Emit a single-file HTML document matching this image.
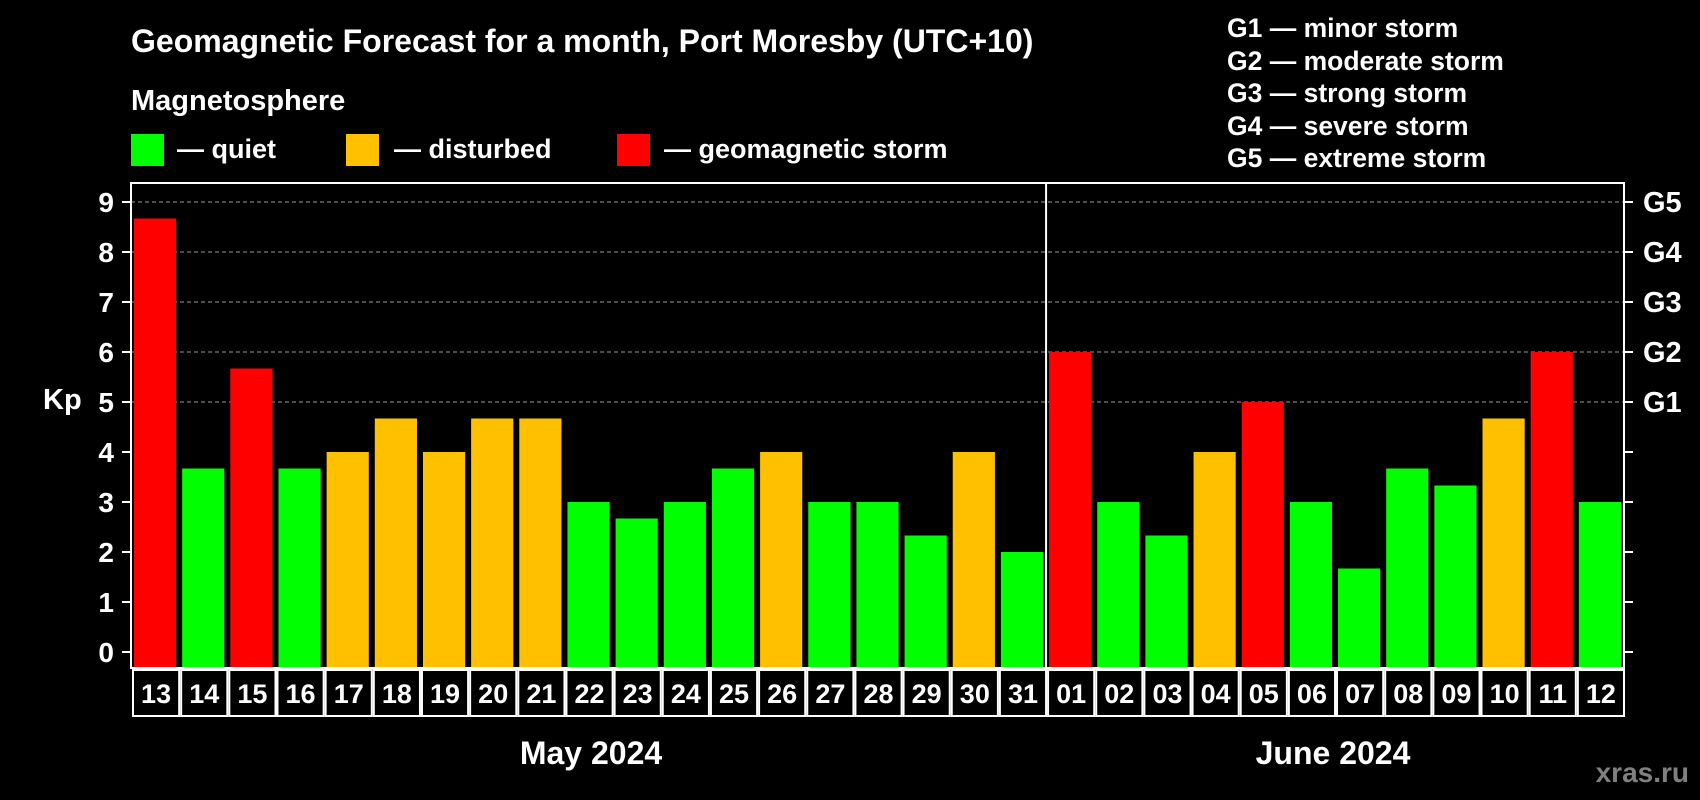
<!DOCTYPE html>
<html><head><meta charset="utf-8"><style>
html,body{margin:0;padding:0;background:#000;}
svg{display:block;font-family:"Liberation Sans",Arial,sans-serif;font-weight:bold;}
</style></head><body>
<svg id="c" width="1700" height="800" viewBox="0 0 1700 800">
<rect x="0" y="0" width="1700" height="800" fill="#000"/>
<text x="131" y="52" fill="#fff" font-size="32">Geomagnetic Forecast for a month, Port Moresby (UTC+10)</text>
<text x="131" y="110" fill="#fff" font-size="29">Magnetosphere</text>
<g><rect x="131" y="134" width="33" height="32" fill="#00ff00"/><text x="177" y="158" fill="#fff" font-size="27">— quiet</text></g>
<g><rect x="346" y="134" width="33" height="32" fill="#ffc000"/><text x="394" y="158" fill="#fff" font-size="27">— disturbed</text></g>
<g><rect x="617" y="134" width="33" height="32" fill="#ff0000"/><text x="664" y="158" fill="#fff" font-size="27">— geomagnetic storm</text></g>
<g fill="#fff" font-size="26.5">
<text x="1227" y="37">G1 — minor storm</text>
<text x="1227" y="70">G2 — moderate storm</text>
<text x="1227" y="102">G3 — strong storm</text>
<text x="1227" y="135">G4 — severe storm</text>
<text x="1227" y="167">G5 — extreme storm</text>
</g>
<text x="43" y="409" fill="#fff" font-size="29">Kp</text>
<g id="grid"></g><g id="bars"></g><g id="axes"></g>
<text x="591" y="764" fill="#fff" font-size="32" text-anchor="middle">May 2024</text>
<text x="1333" y="764" fill="#fff" font-size="32" text-anchor="middle">June 2024</text>
<text x="1689" y="782" fill="#808080" font-size="28" text-anchor="end">xras.ru</text>
</svg>
<script>
const days = ["13","14","15","16","17","18","19","20","21","22","23","24","25","26","27","28","29","30","31","01","02","03","04","05","06","07","08","09","10","11","12"];
const kpValues = [8.67,3.67,5.67,3.67,4,4.67,4,4.67,4.67,3,2.67,3,3.67,4,3,3,2.33,4,2,6,3,2.33,4,5,3,1.67,3.67,3.33,4.67,6,3];
const yTicks = [0,1,2,3,4,5,6,7,8,9];
const gLabels = ["G1","G2","G3","G4","G5"];
const gLevels = [5,6,7,8,9];
const monthSplit = 19;

const NS="http://www.w3.org/2000/svg";
const L=131,R=1624,T=183,B=668;
const slot=(R-L)/days.length;
const y=v=>652-v*50;
const x=i=>L+i*slot;
function mk(tag,attrs,parent){const e=document.createElementNS(NS,tag);for(const k in attrs)e.setAttribute(k,attrs[k]);parent.appendChild(e);return e;}
const grid=document.getElementById('grid'),bars=document.getElementById('bars'),axes=document.getElementById('axes');
gLevels.forEach(v=>{
  const g=mk('line',{x1:L,x2:R,y1:y(v),y2:y(v),stroke:'#999','stroke-width':1,'stroke-dasharray':'4,3'},grid);
  
  
});
kpValues.forEach((v,i)=>{
  const col=v>=5?'#ff0000':(v>=4?'#ffc000':'#00ff00');
  const r=mk('rect',{x:x(i)+3,y:y(v),width:slot-6,height:B-y(v),fill:col},bars);
  
  
});
const fr=mk('rect',{x:L,y:T,width:R-L,height:B-T,fill:'none',stroke:'#fff','stroke-width':2},axes);


const dv=mk('line',{x1:x(monthSplit),x2:x(monthSplit),y1:T,y2:B,stroke:'#fff','stroke-width':2},axes);


yTicks.forEach(v=>{
  mk('line',{x1:L-9,x2:L,y1:y(v),y2:y(v),stroke:'#fff','stroke-width':2},axes);
  mk('line',{x1:R,x2:R+9,y1:y(v),y2:y(v),stroke:'#fff','stroke-width':2},axes);
  const t=mk('text',{x:114,y:y(v)+10,fill:'#fff','font-size':28,'text-anchor':'end'},axes);
  t.textContent=v;
  
  
});
gLabels.forEach((g,i)=>{
  const t=mk('text',{x:1643,y:y(gLevels[i])+10,fill:'#fff','font-size':29},axes);
  t.textContent=g;
  
  
});
days.forEach((d,i)=>{
  const c=mk('rect',{x:x(i)+2,y:B+2,width:slot-2,height:46,fill:'none',stroke:'#fff','stroke-width':2},axes);
  
  
  const t=mk('text',{x:x(i)+slot/2+1,y:B+35,fill:'#fff','font-size':27,'text-anchor':'middle'},axes);
  t.textContent=d;
  
  
});
</script>
</body></html>
